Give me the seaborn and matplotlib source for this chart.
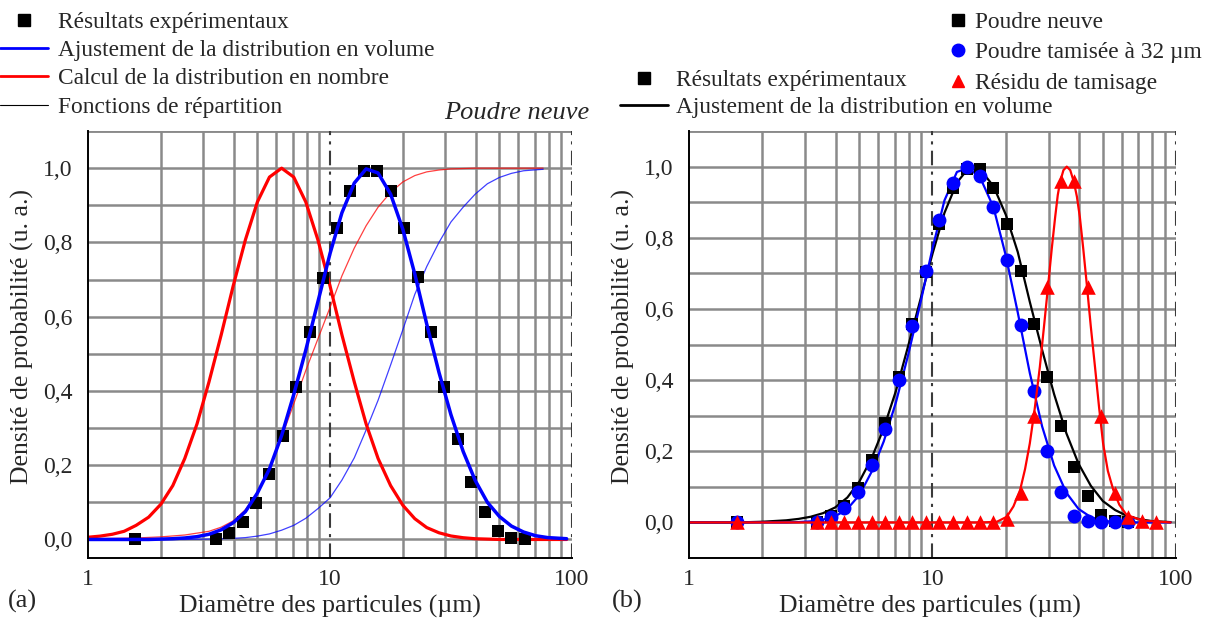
import numpy as np
import pandas as pd
import matplotlib
matplotlib.use("Agg")
import matplotlib.pyplot as plt
import seaborn as sns
from matplotlib.lines import Line2D
from matplotlib.ticker import FixedLocator, FuncFormatter, NullFormatter, LogLocator

# ---------- data ----------
# particle size classes (um)
classes = [1.57, 3.37, 3.83, 4.35, 4.94, 5.62, 6.38, 7.26, 8.25, 9.38, 10.66, 12.1,
           13.8, 15.6, 17.8, 20.2, 23.0, 26.1, 29.6, 33.7, 38.3, 43.5, 49.4, 56.2, 63.8]

# poudre neuve, experimental (volume)
neuve_y = [0.0, 0.002, 0.018, 0.047, 0.097, 0.175, 0.28, 0.41, 0.558, 0.705, 0.839, 0.939,
           0.993, 0.993, 0.939, 0.839, 0.708, 0.558, 0.41, 0.271, 0.155, 0.073, 0.022, 0.004, 0.0]

# poudre tamisee a 32 um
tamisee_y = [0.0, 0.0, 0.016, 0.04, 0.085, 0.161, 0.264, 0.40, 0.552, 0.708, 0.851, 0.954,
             1.0, 0.975, 0.886, 0.738, 0.556, 0.369, 0.20, 0.085, 0.019, 0.004, 0.002, 0.0, 0.0]

# residu de tamisage
residu_x = [1.57, 3.37, 3.83, 4.35, 4.94, 5.62, 6.38, 7.26, 8.25, 9.38, 10.66, 12.1, 13.8,
            15.6, 17.8, 20.2, 23.0, 26.1, 29.6, 33.7, 38.3, 43.5, 49.4, 56.2, 63.8, 72.6, 82.5]
residu_y = [0.0, 0.0, 0.0, 0.0, 0.0, 0.0, 0.0, 0.0, 0.0, 0.0, 0.0, 0.0, 0.0,
            0.0, 0.0, 0.01, 0.083, 0.30, 0.663, 0.959, 0.959, 0.663, 0.30, 0.082, 0.015, 0.005, 0.0]

# abscissae at which the curves were read
curve_x = [1.0, 1.12, 1.26, 1.41, 1.58, 1.78, 2.0, 2.24, 2.51, 2.82, 3.16, 3.55, 3.98, 4.47,
           5.01, 5.62, 6.31, 7.08, 7.94, 8.91, 10.0, 11.2, 12.6, 14.1, 15.8, 17.8, 20.0, 22.4,
           25.1, 28.2, 31.6, 35.5, 39.8, 44.7, 50.1, 56.2, 63.1, 70.8, 79.4, 95.0]

# (a) fitted volume distribution
vol_fit_y = [0.0, 0.0, 0.0, 0.0, 0.0, 0.0, 0.001, 0.002, 0.004, 0.0075, 0.014, 0.026, 0.045,
             0.075, 0.125, 0.19, 0.28, 0.39, 0.51, 0.64, 0.77, 0.88, 0.96, 0.998, 0.987, 0.93,
             0.835, 0.715, 0.58, 0.45, 0.336, 0.237, 0.159, 0.10, 0.062, 0.036, 0.02, 0.01,
             0.005, 0.002]

# (a) number distribution
num_y = [0.006, 0.009, 0.014, 0.022, 0.038, 0.06, 0.095, 0.145, 0.218, 0.311, 0.424, 0.551,
         0.683, 0.807, 0.909, 0.976, 1.0, 0.976, 0.909, 0.807, 0.683, 0.551, 0.424, 0.311,
         0.218, 0.145, 0.092, 0.056, 0.032, 0.018, 0.0094, 0.0047, 0.002, 0.001, 0.0, 0.0,
         0.0, 0.0, 0.0, 0.0]

# (a) cumulative functions (thin lines)
cdf_x = [1.0, 1.58, 2.0, 2.51, 3.16, 3.55, 3.98, 4.47, 5.01, 5.62, 6.31, 7.08, 7.94, 8.91,
         10.0, 11.2, 12.6, 14.1, 15.8, 17.8, 20.0, 22.4, 25.1, 28.2, 31.6, 35.5, 39.8, 44.7,
         50.1, 56.2, 63.1, 76.0]
cdf_num_y = [0.002, 0.004, 0.007, 0.012, 0.022, 0.033, 0.05, 0.08, 0.125, 0.19, 0.275, 0.365,
             0.455, 0.54, 0.625, 0.71, 0.785, 0.845, 0.895, 0.935, 0.963, 0.98, 0.99, 0.995,
             0.998, 0.999, 1.0, 1.0, 1.0, 1.0, 1.0, 1.0]
cdf_vol_y = [0.0, 0.0, 0.0, 0.0, 0.001, 0.002, 0.003, 0.005, 0.009, 0.015, 0.025, 0.038,
             0.057, 0.083, 0.112, 0.16, 0.22, 0.295, 0.375, 0.47, 0.565, 0.66, 0.735, 0.80,
             0.855, 0.895, 0.93, 0.958, 0.975, 0.986, 0.993, 0.997]

# (b) fits
fit_neuve_y = [0.0, 0.0, 0.0, 0.0, 0.0, 0.001, 0.002, 0.004, 0.006, 0.01, 0.016, 0.026, 0.042,
               0.07, 0.115, 0.18, 0.265, 0.37, 0.495, 0.625, 0.755, 0.87, 0.955, 0.997, 0.99,
               0.945, 0.865, 0.76, 0.62, 0.485, 0.36, 0.25, 0.165, 0.103, 0.06, 0.035, 0.018,
               0.009, 0.004, 0.001]
fit_tamisee_y = [0.0, 0.0, 0.0, 0.0, 0.0, 0.0, 0.0, 0.0, 0.0, 0.001, 0.003, 0.008, 0.017,
                 0.038, 0.077, 0.142, 0.228, 0.338, 0.47, 0.615, 0.77, 0.905, 0.985, 0.997,
                 0.965, 0.886, 0.75, 0.59, 0.42, 0.27, 0.16, 0.083, 0.038, 0.015, 0.005,
                 0.001, 0.0, 0.0, 0.0, 0.0]
fit_residu_x = [1.0, 16.0, 18.4, 20.2, 21.5, 22.9, 24.0, 25.1, 26.3, 27.6, 28.8, 29.9, 30.9,
                31.9, 32.7, 33.4, 34.5, 35.6, 36.8, 38.1, 39.2, 40.3, 41.6, 43.0, 44.7, 46.5,
                48.3, 50.2, 52.5, 55.3, 58.5, 62.7, 73.4, 95.0]
fit_residu_y = [0.0, 0.0, 0.002, 0.016, 0.045, 0.091, 0.15, 0.222, 0.32, 0.437, 0.56, 0.671,
                0.77, 0.858, 0.92, 0.956, 0.99, 1.0, 0.99, 0.956, 0.915, 0.858, 0.77, 0.671,
                0.55, 0.437, 0.325, 0.222, 0.145, 0.091, 0.05, 0.021, 0.005, 0.0]

# ---------- style ----------
sns.set_style("white")
plt.rcParams["font.family"] = ["Liberation Serif", "DejaVu Serif"]

GRID = "#8a8a8a"
BLUE = "#0000ff"
RED = "#ff0000"
FS = 16.8

fig = plt.figure(figsize=(12.06, 6.21), dpi=100)
ax1 = fig.add_axes([0.0730, 0.1014, 0.4013, 0.6876])
ax2 = fig.add_axes([0.5713, 0.1014, 0.4038, 0.6876])


def setup(ax, ymin):
    ax.set_xscale("log")
    ax.set_xlim(1, 100)
    ax.set_ylim(ymin, 1.1)
    ax.set_xticks([1, 10, 100])
    ax.set_xticklabels(["1", "10", "100"])
    ax.xaxis.set_minor_locator(LogLocator(base=10, subs=range(2, 10)))
    ax.xaxis.set_minor_formatter(NullFormatter())
    ax.yaxis.set_major_locator(FixedLocator([0.0, 0.2, 0.4, 0.6, 0.8, 1.0]))
    ax.yaxis.set_minor_locator(FixedLocator([-0.1, 0.1, 0.3, 0.5, 0.7, 0.9, 1.1]))
    ax.yaxis.set_major_formatter(FuncFormatter(lambda v, p: f"{v:.1f}".replace(".", ",")))
    ax.tick_params(axis="both", which="major", direction="out", length=7, width=1.3,
                   labelsize=17, color="black", pad=4)
    ax.tick_params(axis="both", which="minor", direction="out", length=6, width=1.3,
                   color="#555555")
    ax.tick_params(axis="x", which="major", pad=1)
    for side in ["top", "right"]:
        ax.spines[side].set_visible(False)
    for side in ["left", "bottom"]:
        ax.spines[side].set_color("black")
        ax.spines[side].set_linewidth(1.4)
        ax.spines[side].set_zorder(5)
    ax.set_axisbelow(True)
    ax.grid(which="minor", axis="x", color=GRID, lw=1.8)
    ax.grid(which="both", axis="y", color=GRID, lw=1.8)
    ax.axhline(1.1, color=GRID, lw=1.8, zorder=0.5)
    for xv in [10, 100]:
        ax.axvline(xv, color="#3a3a3a", lw=1.5, ls=(0, (7, 3, 1.5, 3)), zorder=1)
    ax.set_xlabel("")
    ax.set_ylabel("")


setup(ax1, -0.05)
setup(ax2, -0.1)

line_kw = dict(sort=False, estimator=None, solid_joinstyle="round", solid_capstyle="round")

# ---------- panel (a) ----------
sns.lineplot(x=cdf_x, y=cdf_num_y, ax=ax1, color=RED, lw=0.9, alpha=0.75, zorder=2, **line_kw)
sns.lineplot(x=cdf_x, y=cdf_vol_y, ax=ax1, color=BLUE, lw=0.9, alpha=0.75, zorder=2, **line_kw)
sns.lineplot(x=curve_x, y=num_y, ax=ax1, color=RED, lw=2.3, zorder=3, **line_kw)
sns.scatterplot(x=classes, y=neuve_y, ax=ax1, marker="s", s=85, color="black",
                edgecolor="black", linewidth=0, zorder=4)
sns.lineplot(x=curve_x, y=vol_fit_y, ax=ax1, color=BLUE, lw=2.5, zorder=5, **line_kw)

# ---------- panel (b) ----------
sns.lineplot(x=curve_x, y=fit_neuve_y, ax=ax2, color="black", lw=1.6, zorder=3, **line_kw)
sns.lineplot(x=curve_x, y=fit_tamisee_y, ax=ax2, color=BLUE, lw=1.6, zorder=3, **line_kw)
sns.scatterplot(x=classes, y=neuve_y, ax=ax2, marker="s", s=75, color="black",
                edgecolor="black", linewidth=0, zorder=4)
sns.scatterplot(x=classes, y=tamisee_y, ax=ax2, marker="o", s=100, color=BLUE,
                edgecolor=BLUE, linewidth=0, zorder=4)
sns.lineplot(x=fit_residu_x, y=fit_residu_y, ax=ax2, color=RED, lw=1.6, zorder=5, **line_kw)
sns.scatterplot(x=residu_x, y=residu_y, ax=ax2, marker="^", s=110, color=RED,
                edgecolor=RED, linewidth=0, zorder=6)

# ---------- texts ----------
fig.text(0.489, 1 - 113 / 621, "Poudre neuve", style="italic", fontsize=19,
         ha="right", va="center")
fig.text(0.0066, 1 - 601 / 621, "(a)", fontsize=19, ha="left", va="center")
fig.text(612 / 1206, 1 - 601 / 621, "(b)", fontsize=19, ha="left", va="center")
for xc in [330 / 1206, 930 / 1206]:
    fig.text(xc, 1 - 606 / 621, "Diamètre des particules (µm)", fontsize=18.5,
             ha="center", va="center")
for xc in [22 / 1206, 623 / 1206]:
    fig.text(xc, 1 - 337 / 621, "Densité de probabilité (u. a.)", fontsize=18.5,
             ha="center", va="center", rotation=90)

# ---------- legends ----------
leg_kw = dict(frameon=False, fontsize=FS, borderpad=0, borderaxespad=0, loc="upper left")

h_a = [Line2D([], [], ls="none", marker="s", ms=8, color="black"),
       Line2D([], [], color=BLUE, lw=2.0),
       Line2D([], [], color=RED, lw=2.0),
       Line2D([], [], color="black", lw=0.8)]
l_a = ["Résultats expérimentaux", "Ajustement de la distribution en volume",
       "Calcul de la distribution en nombre", "Fonctions de répartition"]
fig.legend(h_a, l_a, bbox_to_anchor=(0.0, 1 - 11.5 / 621), handlelength=2.06,
           handletextpad=0.43, labelspacing=0.30, **leg_kw)

h_b1 = [Line2D([], [], ls="none", marker="s", ms=8, color="black"),
        Line2D([], [], ls="none", marker="o", ms=9, color=BLUE),
        Line2D([], [], ls="none", marker="^", ms=9, color=RED)]
l_b1 = ["Poudre neuve", "Poudre tamisée à 32 µm", "Résidu de tamisage"]
fig.legend(h_b1, l_b1, bbox_to_anchor=(946 / 1206, 1 - 11.5 / 621), handlelength=1.0,
           handletextpad=0.23, labelspacing=0.40, **leg_kw)

h_b2 = [Line2D([], [], ls="none", marker="s", ms=8, color="black"),
        Line2D([], [], color="black", lw=2.0)]
l_b2 = ["Résultats expérimentaux", "Ajustement de la distribution en volume"]
fig.legend(h_b2, l_b2, bbox_to_anchor=(620 / 1206, 1 - 69.5 / 621), handlelength=2.06,
           handletextpad=0.34, labelspacing=0.24, **leg_kw)

fig.savefig("out.png", dpi=100)
